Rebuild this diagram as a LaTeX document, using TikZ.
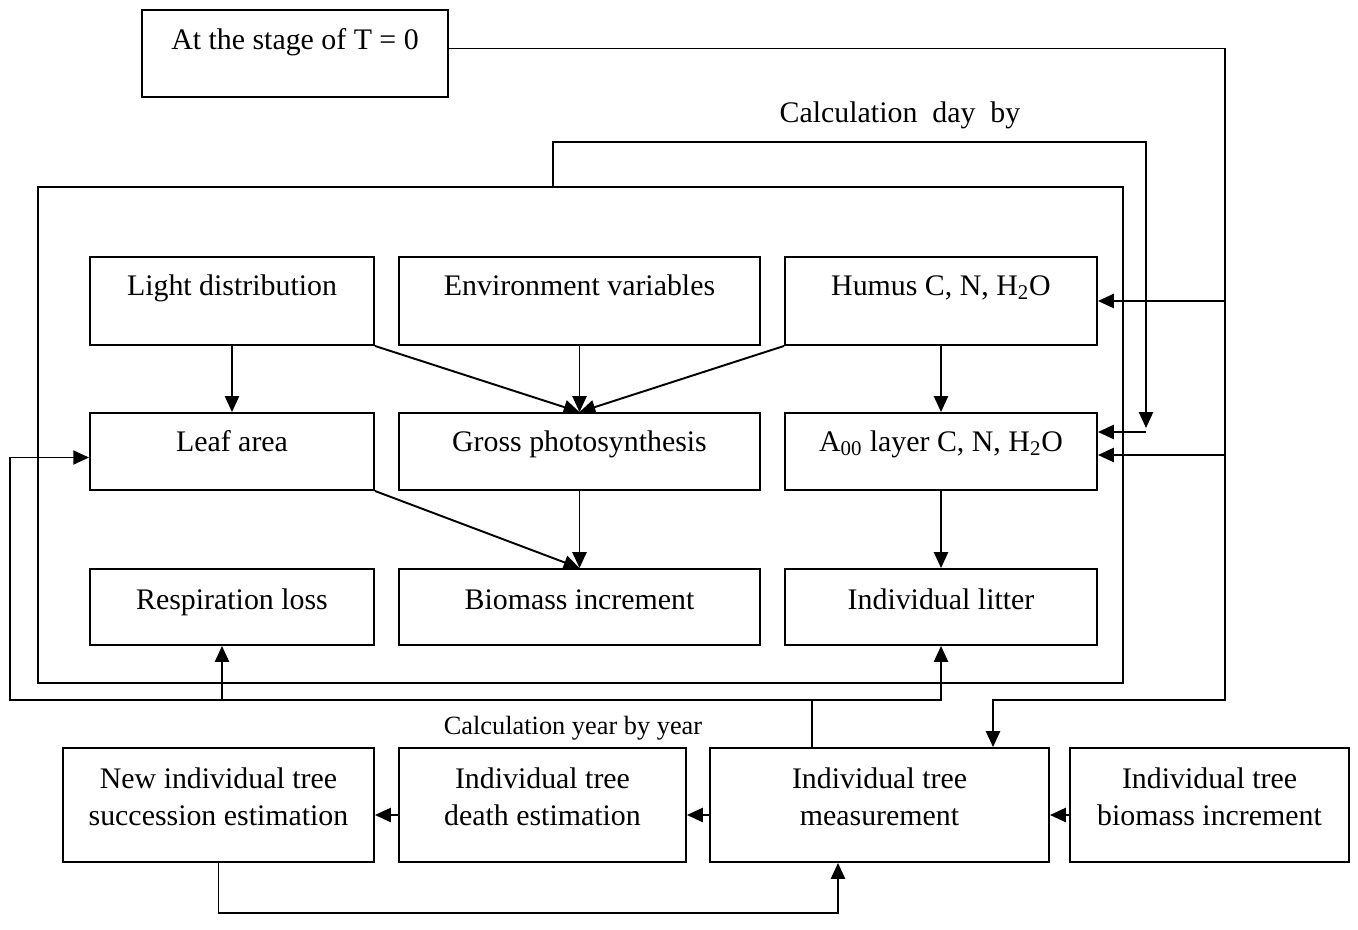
\documentclass[tikz,border=0pt]{standalone}
\usepackage{fontspec}
\setmainfont{Liberation Serif}
\usetikzlibrary{arrows.meta, positioning}

\begin{document}
\begin{tikzpicture}[
    x=0.02cm, y=-0.02cm,
    every node/.style={font=\fontsize{17}{21}\selectfont},
    box/.style={rectangle, draw, line width=1.1pt, inner sep=0pt, align=center},
    topbox/.style={box, minimum width=6.12cm, text height=0.8cm, text depth=0.94cm},
    rowa/.style={box, text height=0.76cm, text depth=1.0cm},
    rowb/.style={box, text height=0.76cm, text depth=0.78cm},
    rowc/.style={box, text height=0.8cm, text depth=0.72cm},
    leftcol/.style={minimum width=5.68cm},
    midcol/.style={minimum width=7.22cm},
    rightcol/.style={minimum width=6.24cm},
    yearbox/.style={box, text height=1.54cm, text depth=0.74cm},
    line/.style={line width=1.1pt},
    arrow/.style={-{Triangle[length=9pt,width=8pt]}, line width=1.1pt}
]
\useasboundingbox (0,0) rectangle (1358,929);

% --- Start and daily loop frame ---
\node[topbox] (t0) at (295,53.5) {At the stage of T = 0};
\node[box, minimum width=21.7cm, minimum height=9.92cm] (outer) at (580.5,435) {};

% --- Daily calculation boxes ---
\node[rowa, leftcol] (light) at (232,301) {Light distribution};
\node[rowa, midcol] (env) at (579.5,301) {Environment variables};
\node[rowa, rightcol] (humus) at (941,301) {Humus C, N, H\textsubscript{2}O};
\node[rowb, leftcol] (leaf) at (232,451.5) {Leaf area};
\node[rowb, midcol] (gross) at (579.5,451.5) {Gross photosynthesis};
\node[rowb, rightcol] (a00) at (941,451.5) {A\textsubscript{00} layer C, N, H\textsubscript{2}O};
\node[rowc, leftcol] (resp) at (232,607) {Respiration loss};
\node[rowc, midcol] (biom) at (579.5,607) {Biomass increment};
\node[rowc, rightcol] (litter) at (941,607) {Individual litter};

\draw[arrow] (light.south) -- (leaf.north);
\draw[arrow] (light.south east) -- (gross.north);
\draw[arrow] (env.south) -- (gross.north);
\draw[arrow] (humus.south west) -- (gross.north);
\draw[arrow] (humus.south) -- (a00.north);
\draw[arrow] (leaf.south east) -- (biom.north);
\draw[arrow] (gross.south) -- (biom.north);
\draw[arrow] (a00.south) -- (litter.north);

% --- Yearly calculation boxes ---
\node[yearbox, minimum width=6.22cm] (newtree) at (218.5,805) {New individual tree\\succession estimation};
\node[yearbox, minimum width=5.74cm] (death) at (542.5,805) {Individual tree\\death estimation};
\node[yearbox, minimum width=6.78cm] (meas) at (879.5,805) {Individual tree\\measurement};
\node[yearbox, minimum width=5.58cm] (bioinc) at (1209.5,805) {Individual tree\\biomass increment};

\draw[arrow] ([yshift=-0.2cm]bioinc.west) -- ([yshift=-0.2cm]meas.east);
\draw[arrow] ([yshift=-0.2cm]meas.west) -- ([yshift=-0.2cm]death.east);
\draw[arrow] ([yshift=-0.2cm]death.west) -- ([yshift=-0.2cm]newtree.east);

\coordinate (bloop) at (838,913);
\draw[arrow] (newtree.south) |- (bloop) -- (meas.south -| bloop);

% --- Labels ---
\node (daylbl) at (900,115) {Calculation~~day~~by};
\node[font=\fontsize{15}{18}\selectfont] (yearlbl) at (573,728) {Calculation year by year};

% --- Day by day loop ---
\coordinate (dayl) at (553,142);
\coordinate (dayr) at (1146,428);
\coordinate (dayc) at (1146,432);
\draw[arrow] (outer.north -| dayl) -- (dayl) -| (dayr);
\draw[arrow] (dayc) -- (a00.east |- dayc);

% --- Initial state feed ---
\coordinate (rbus) at (1225,700);
\coordinate (mtap) at (993,700);
\draw[arrow] ([yshift=0.1cm]t0.east) -| (rbus) -- (mtap) -- (meas.north -| mtap);
\draw[arrow] (humus.east -| rbus) -- (humus.east);
\draw[arrow] ([yshift=-0.07cm]a00.east -| rbus) -- ([yshift=-0.07cm]a00.east);

% --- Measurement feedback ---
\coordinate (lbus) at (10,700);
\coordinate (ytap) at (812,700);
\draw[arrow] (meas.north -| ytap) -- (ytap) -- (lbus) |- ([yshift=-0.12cm]leaf.west);
\draw[arrow] (ytap) -| (litter.south);
\draw[arrow] ([xshift=-0.2cm]resp.south |- lbus) -- ([xshift=-0.2cm]resp.south);
\end{tikzpicture}
\end{document}
